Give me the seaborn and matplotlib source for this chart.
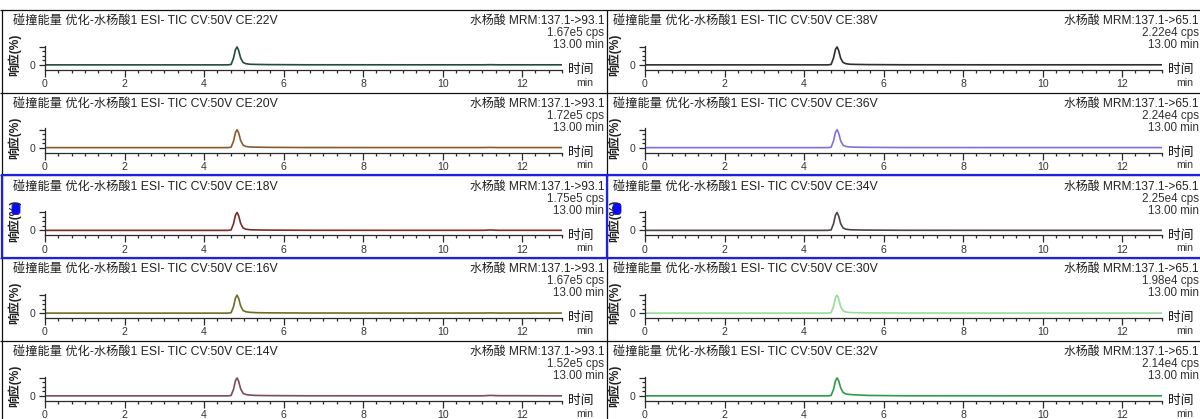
import matplotlib
matplotlib.use("Agg")
import matplotlib.pyplot as plt
import seaborn as sns
import pandas as pd
from matplotlib.ticker import MultipleLocator, FixedLocator, FixedFormatter
from matplotlib.patches import FancyBboxPatch

sns.set_style("white")
plt.rcParams["font.family"] = ["Liberation Sans", "Noto Sans CJK SC"]

FIG_W, FIG_H = 1200, 419

# Retention time grid (min) shared by every trace
time_min = [0.0, 2.0, 4.0, 4.6, 4.68, 4.74, 4.79, 4.83, 4.87, 4.92, 4.98,
            5.05, 5.15, 5.3, 5.6, 6.5, 9.0, 11.0, 11.2, 11.4, 13.0]

# Normalised response (%) per collision energy, MRM 137.1->93.1
resp_ce22 = [0.5, 0.5, 0.5, 0.5, 3, 38, 86, 100, 80, 38, 14, 7, 4, 3, 2, 1, 0.8, 0.8, 1.5, 0.8, 0.8]
resp_ce20 = [0.5, 0.5, 0.5, 0.5, 3, 36, 85, 100, 82, 40, 15, 7, 4, 3, 2, 1, 0.8, 0.8, 1.5, 0.8, 0.8]
resp_ce18 = [0.5, 0.5, 0.5, 0.5, 3, 37, 86, 100, 81, 39, 14, 7, 4, 3, 2, 1, 0.8, 0.8, 2.5, 0.8, 0.8]
resp_ce16 = [0.5, 0.5, 0.5, 0.5, 3, 36, 85, 100, 82, 40, 15, 8, 5, 3, 2, 1, 0.8, 0.8, 1.5, 0.8, 0.8]
resp_ce14 = [0.5, 0.5, 0.5, 0.5, 3, 37, 86, 100, 81, 39, 15, 8, 5, 3, 2, 1, 0.8, 0.8, 3.0, 1.5, 0.8]

# Normalised response (%) per collision energy, MRM 137.1->65.1
resp_ce38 = [0.5, 0.5, 0.5, 0.5, 3, 38, 87, 100, 80, 37, 14, 7, 4, 3, 2, 1, 0.8, 0.8, 0.8, 0.8, 0.8]
resp_ce36 = [0.5, 0.5, 0.5, 0.5, 3, 37, 86, 100, 81, 38, 14, 7, 4, 3, 2, 1, 0.8, 0.8, 0.8, 0.8, 0.8]
resp_ce34 = [0.5, 0.5, 0.5, 0.5, 3, 37, 86, 100, 80, 38, 14, 7, 4, 3, 2, 1, 0.8, 0.8, 0.8, 0.8, 0.8]
resp_ce30 = [0.5, 0.5, 0.5, 0.5, 3, 38, 87, 100, 80, 37, 14, 7, 4, 3, 2, 1, 0.8, 0.8, 0.8, 0.8, 0.8]
resp_ce32 = [0.5, 0.5, 0.5, 0.5, 3, 36, 85, 100, 84, 45, 20, 11, 8, 6, 3, 1, 0.8, 0.8, 0.8, 0.8, 0.8]

ce_left = ["22V", "20V", "18V", "16V", "14V"]
ce_right = ["38V", "36V", "34V", "30V", "32V"]
cps_left = ["1.67e5", "1.72e5", "1.75e5", "1.67e5", "1.52e5"]
cps_right = ["2.22e4", "2.24e4", "2.25e4", "1.98e4", "2.14e4"]
resp_left = [resp_ce22, resp_ce20, resp_ce18, resp_ce16, resp_ce14]
resp_right = [resp_ce38, resp_ce36, resp_ce34, resp_ce30, resp_ce32]
mrm_left = "137.1->93.1"
mrm_right = "137.1->65.1"
run_time = "13.00 min"
compound = "水杨酸"
sample_prefix = "碰撞能量 优化-水杨酸1 ESI- TIC CV:50V CE:"

colors_left = ["#1f4d3d", "#8a5a30", "#7a2c2c", "#6e6e20", "#7a4c5c"]
colors_right = ["#2e2e2e", "#7e70dd", "#4e4444", "#98dc98", "#2f9a4c"]

x_ticks = [0, 2, 4, 6, 8, 10, 12]

fig = plt.figure(figsize=(FIG_W / 100, FIG_H / 100), dpi=100)


def px_axes(x0, y0, x1, y1, **kw):
    """Axes placed by figure pixel box (top-left origin)."""
    return fig.add_axes([x0 / FIG_W, 1 - y1 / FIG_H, (x1 - x0) / FIG_W,
                         (y1 - y0) / FIG_H], **kw)


ROW_H = 82.75
row_tops = [10 + ROW_H * i for i in range(5)]
AX_COL = "#2a2a2a"
TXT_COL = "#333333"

for col, (x_off, p_x0, p_x1, r_anchor) in enumerate(
        [(0, 2, 606, 604), (600, 607, 1212, 1199)]):
    ces = ce_left if col == 0 else ce_right
    cps = cps_left if col == 0 else cps_right
    resps = resp_left if col == 0 else resp_right
    cols = colors_left if col == 0 else colors_right
    mrm = mrm_left if col == 0 else mrm_right
    for r, T in enumerate(row_tops):
        # panel canvas in pixel coordinates, used for clipped annotations
        pan = px_axes(p_x0, T, p_x1, T + ROW_H, zorder=0)
        pan.set_xlim(p_x0, p_x1)
        pan.set_ylim(T + ROW_H, T)
        pan.axis("off")
        pan.text(13 + x_off, T + 11, sample_prefix + ces[r], fontsize=8.8,
                 color="#222222", ha="left", va="center", clip_on=True)
        pan.text(r_anchor, T + 11, f"{compound} MRM:{mrm}", fontsize=8.6,
                 color="#222222", ha="right", va="center", clip_on=True)
        pan.text(r_anchor, T + 23, f"{cps[r]} cps", fontsize=8.4,
                 color=TXT_COL, ha="right", va="center", clip_on=True)
        pan.text(r_anchor, T + 35, run_time, fontsize=8.4,
                 color=TXT_COL, ha="right", va="center", clip_on=True)
        pan.text(581 + x_off, T + 60, "时间", fontsize=9.2, color="#111111",
                 ha="center", va="center", clip_on=True)
        pan.text(585 + x_off, T + 72.5, "min", fontsize=7.6, color=TXT_COL,
                 ha="center", va="center", clip_on=True)
        pan.text(14 + x_off, T + 45, "响应(%)", fontsize=8.6, color="#222222",
                 fontweight="bold", rotation=90, ha="center", va="center",
                 clip_on=True)

        # chromatogram axes
        ax = px_axes(45 + x_off, T + 33, 562 + x_off, T + 60, zorder=2)
        ax.patch.set_alpha(0)
        df = pd.DataFrame({"time": time_min, "resp": resps[r]})
        sns.lineplot(data=df, x="time", y="resp", ax=ax, color=cols[r],
                     linewidth=1.2)
        ax.set_xlim(0, 13)
        ax.set_ylim(-28, 122)
        ax.set_xlabel("")
        ax.set_ylabel("")
        for s in ("top", "right"):
            ax.spines[s].set_visible(False)
        for s in ("left", "bottom"):
            ax.spines[s].set_color(AX_COL)
            ax.spines[s].set_linewidth(0.9)
        ax.spines["left"].set_bounds(-28, 108)
        ax.xaxis.set_major_locator(FixedLocator(x_ticks))
        ax.xaxis.set_major_formatter(FixedFormatter([str(t) for t in x_ticks]))
        ax.xaxis.set_minor_locator(MultipleLocator(1 / 3))
        ax.yaxis.set_major_locator(FixedLocator([0, 100]))
        ax.yaxis.set_major_formatter(FixedFormatter(["0", ""]))
        ax.yaxis.set_minor_locator(FixedLocator([25, 50, 75]))
        ax.tick_params(axis="both", which="both", direction="out",
                       color=AX_COL, width=0.9, labelsize=7.6,
                       labelcolor=TXT_COL)
        ax.tick_params(axis="x", which="major", length=5, pad=1.5)
        ax.tick_params(axis="x", which="minor", length=2.5)
        ax.tick_params(axis="y", which="major", length=4.5, pad=2.5)
        ax.tick_params(axis="y", which="minor", length=2.5)
        ax.tick_params(bottom=True, left=True, which="both")

# overlay for panel frames and selection marker
ov = px_axes(0, 0, FIG_W, FIG_H, zorder=5)
ov.set_xlim(0, FIG_W)
ov.set_ylim(FIG_H, 0)
ov.axis("off")
ov.patch.set_alpha(0)

BLK = "#111111"
BLUE = "#2020e0"
for T in row_tops:
    ov.plot([0, FIG_W], [T, T], color=BLK, lw=0.9, solid_capstyle="butt")
ov.plot([2, 2], [10, FIG_H], color=BLK, lw=0.9)
ov.plot([607, 607], [10, FIG_H], color=BLK, lw=0.9)

sel_top, sel_bot = row_tops[2], row_tops[3]
ov.plot([1, FIG_W], [sel_top, sel_top], color=BLUE, lw=1.6, solid_capstyle="butt")
ov.plot([1, FIG_W], [sel_bot, sel_bot], color=BLUE, lw=1.6, solid_capstyle="butt")
ov.plot([2, 2], [sel_top, sel_bot], color=BLUE, lw=1.6)
ov.plot([607, 607], [sel_top, sel_bot], color=BLUE, lw=1.6)

for ix in (12, 613):
    ov.add_patch(FancyBboxPatch((ix, 203.5), 8, 11,
                                boxstyle="round,pad=0,rounding_size=3",
                                facecolor="#0a0aff", edgecolor="#1a1a9a",
                                lw=0.6))

fig.savefig("out.png", dpi=100, facecolor="white")
